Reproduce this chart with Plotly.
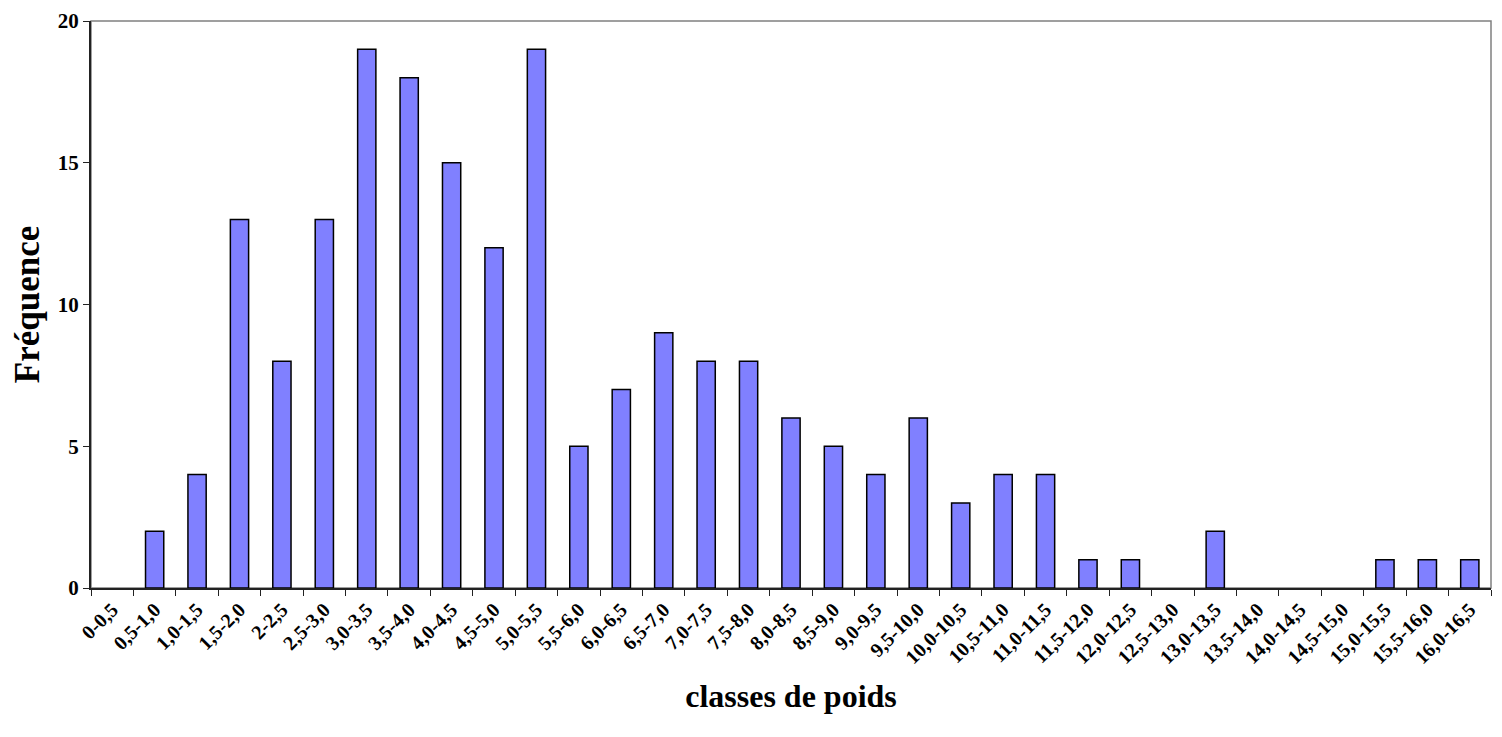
import plotly.graph_objects as go

categories = ["0-0,5", "0,5-1,0", "1,0-1,5", "1,5-2,0", "2-2,5", "2,5-3,0", "3,0-3,5",
              "3,5-4,0", "4,0-4,5", "4,5-5,0", "5,0-5,5", "5,5-6,0", "6,0-6,5", "6,5-7,0",
              "7,0-7,5", "7,5-8,0", "8,0-8,5", "8,5-9,0", "9,0-9,5", "9,5-10,0", "10,0-10,5",
              "10,5-11,0", "11,0-11,5", "11,5-12,0", "12,0-12,5", "12,5-13,0", "13,0-13,5",
              "13,5-14,0", "14,0-14,5", "14,5-15,0", "15,0-15,5", "15,5-16,0", "16,0-16,5"]
frequence = [0, 2, 4, 13, 8, 13, 19, 18, 15, 12, 19, 5, 7, 9, 8, 8, 6, 5, 4, 6, 3,
             4, 4, 1, 1, 0, 2, 0, 0, 0, 1, 1, 1]
y_ticks = [0, 5, 10, 15, 20]

FONT = "Liberation Serif"

outline_widths = [1.5 if v > 0 else 0 for v in frequence]

fig = go.Figure()
fig.add_trace(go.Bar(
    x=categories, y=frequence,
    marker=dict(color="#8080FF", line=dict(color="#000000", width=outline_widths)),
    width=0.43,
))

fig.add_shape(type="rect", xref="paper", yref="paper", x0=0, y0=0, x1=1, y1=1,
              line=dict(color="#808080", width=1.5), layer="below")

fig.update_layout(
    width=1494, height=729,
    margin=dict(l=83, r=11, t=13, b=149),
    plot_bgcolor="white", paper_bgcolor="white",
    showlegend=False,
    font=dict(family=FONT, color="black"),
    xaxis=dict(
        type="category",
        automargin=False,
        range=[-0.5, len(categories) - 0.5],
        tickson="boundaries",
        ticks="outside", ticklen=6, tickwidth=1, tickcolor="#222222",
        tickangle=-45,
        tickfont=dict(family=FONT, size=20, color="black", weight="bold"),
        showline=True, linecolor="#222222", linewidth=2,
        showgrid=False,
        title=dict(text="<b>classes de poids</b>", font=dict(family=FONT, size=32, color="black"),
                   standoff=17),
    ),
    yaxis=dict(
        automargin=False,
        range=[0, 20],
        tickvals=y_ticks,
        ticks="outside", ticklen=6, tickwidth=1, tickcolor="#222222",
        tickfont=dict(family=FONT, size=21, color="black", weight="bold"),
        showline=True, linecolor="#222222", linewidth=2,
        showgrid=False, zeroline=False,
        title=dict(text="<b>Fréquence</b>", font=dict(family=FONT, size=35, color="black"),
                   standoff=19),
    ),
)

fig.write_html("out.html")
